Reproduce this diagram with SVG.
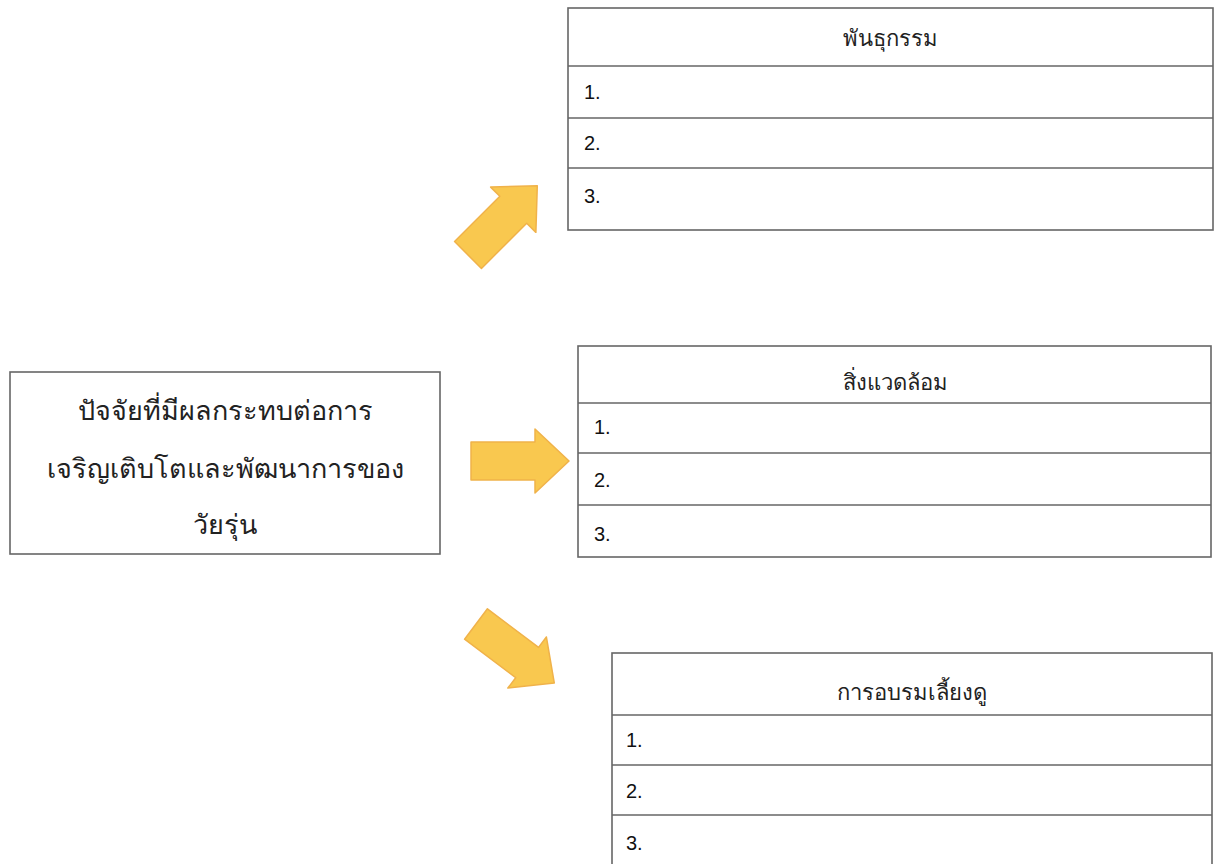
<svg xmlns="http://www.w3.org/2000/svg" width="1219" height="864" viewBox="0 0 1219 864">
<defs>
<style>
.box{fill:#fff;stroke:#666;stroke-width:1.6}
.ln{stroke:#666;stroke-width:1.6;fill:none}
.th{font-family:"Liberation Sans","Noto Sans",sans-serif;font-size:22px;fill:#222;text-anchor:middle}
.big{font-size:27px}
.num{font-family:"Liberation Sans",Arial,sans-serif;font-size:20px;fill:#111}
.arr{fill:#f9c84f;stroke:#f0b24a;stroke-width:1.5;stroke-linejoin:round}
</style>
<polygon id="arrow" points="0,-19 64,-19 64,-32 98,0 64,32 64,19 0,19"/>
</defs>
<rect width="1219" height="864" fill="#fff"/>
<g id="connectors">
<use href="#arrow" class="arr" transform="translate(468,255) rotate(-45)"/>
<use href="#arrow" class="arr" transform="translate(471,461)"/>
<use href="#arrow" class="arr" transform="translate(476,624) rotate(37)"/>
</g>
<g id="source">
<rect class="box" x="10" y="372" width="430" height="182"/>
<text class="th big" x="225" y="420">ปัจจัยที่มีผลกระทบต่อการ</text>
<text class="th big" x="225" y="478">เจริญเติบโตและพัฒนาการของ</text>
<text class="th big" x="225" y="534">วัยรุ่น</text>
</g>
<g id="genetics">
<rect class="box" x="568" y="8" width="645" height="222"/>
<line class="ln" x1="568" y1="66" x2="1213" y2="66"/>
<line class="ln" x1="568" y1="118" x2="1213" y2="118"/>
<line class="ln" x1="568" y1="168" x2="1213" y2="168"/>
<text class="th" x="890" y="46">พันธุกรรม</text>
<text class="num" x="584" y="99">1.</text>
<text class="num" x="584" y="150">2.</text>
<text class="num" x="584" y="203">3.</text>
</g>
<g id="environment">
<rect class="box" x="578" y="346" width="633" height="211"/>
<line class="ln" x1="578" y1="403" x2="1211" y2="403"/>
<line class="ln" x1="578" y1="453" x2="1211" y2="453"/>
<line class="ln" x1="578" y1="505" x2="1211" y2="505"/>
<text class="th" x="895" y="390">สิ่งแวดล้อม</text>
<text class="num" x="594" y="434">1.</text>
<text class="num" x="594" y="487">2.</text>
<text class="num" x="594" y="541">3.</text>
</g>
<g id="upbringing">
<rect class="box" x="612" y="653" width="600" height="220"/>
<line class="ln" x1="612" y1="715" x2="1212" y2="715"/>
<line class="ln" x1="612" y1="765" x2="1212" y2="765"/>
<line class="ln" x1="612" y1="815" x2="1212" y2="815"/>
<text class="th" x="912" y="700">การอบรมเลี้ยงดู</text>
<text class="num" x="626" y="747">1.</text>
<text class="num" x="626" y="798">2.</text>
<text class="num" x="626" y="850">3.</text>
</g>
</svg>
